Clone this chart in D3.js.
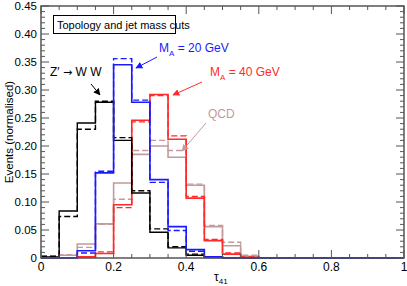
<!DOCTYPE html>
<html>
<head>
<meta charset="utf-8">
<script src="https://cdn.jsdelivr.net/npm/d3@7"></script>
<style>
  body { margin: 0; background: #fff; }
  text { font-family: "Liberation Sans", Arial, sans-serif; }
</style>
</head>
<body>
<div id="canvas"></div>
<script>
"use strict";

/* Data: normalised event fractions per tau41 bin (bin width 0.05) */
let binEdges = d3.range(0, 1.0001, 0.05).map(d => +d.toFixed(2));

let wwSolid   = [0.002, 0.084, 0.241, 0.278, 0.210, 0.116, 0.046, 0.018, 0.005, 0.001, 0, 0, 0, 0, 0, 0, 0, 0, 0, 0];
let wwDashed  = [0.003, 0.074, 0.230, 0.280, 0.215, 0.120, 0.052, 0.020, 0.007, 0.002, 0, 0, 0, 0, 0, 0, 0, 0, 0, 0];
let a20Solid  = [0, 0, 0.013, 0.152, 0.345, 0.278, 0.140, 0.056, 0.015, 0.002, 0, 0, 0, 0, 0, 0, 0, 0, 0, 0];
let a20Dashed = [0, 0, 0.009, 0.155, 0.356, 0.282, 0.135, 0.049, 0.012, 0.002, 0, 0, 0, 0, 0, 0, 0, 0, 0, 0];
let a40Solid  = [0, 0, 0.002, 0.008, 0.095, 0.246, 0.292, 0.212, 0.107, 0.031, 0.007, 0.001, 0, 0, 0, 0, 0, 0, 0, 0];
let a40Dashed = [0, 0, 0.002, 0.011, 0.090, 0.243, 0.290, 0.218, 0.110, 0.033, 0.009, 0.002, 0, 0, 0, 0, 0, 0, 0, 0];
let qcdSolid  = [0.001, 0.005, 0.025, 0.061, 0.134, 0.185, 0.200, 0.180, 0.130, 0.056, 0.022, 0.003, 0, 0, 0, 0, 0, 0, 0, 0];
let qcdDashed = [0.003, 0.006, 0.019, 0.060, 0.105, 0.192, 0.210, 0.192, 0.132, 0.058, 0.028, 0.005, 0, 0, 0, 0, 0, 0, 0, 0];

let xTicks = [0, 0.2, 0.4, 0.6, 0.8, 1];
let yTicks = [0, 0.05, 0.10, 0.15, 0.20, 0.25, 0.30, 0.35, 0.40, 0.45];

/* Drawing configuration */
let svgWidth = 407;
let svgHeight = 286;
let plotLeft = 41, plotRight = 404, plotTop = 6, plotBottom = 258;

let colBlack = "#000000";
let colBlue = "#1a1aff";
let colRed = "#ff2a2a";
let colQcd = "#c49a9a";
let frameCol = "#555555";

let svg = d3.select("#canvas")
  .append("svg")
  .attr("width", svgWidth)
  .attr("height", svgHeight);

let xScale = d3.scaleLinear().domain([0, 1]).range([plotLeft, plotRight]);
let yScale = d3.scaleLinear().domain([0, 0.45]).range([plotBottom, plotTop]);

/* Histograms as step lines */
let stepLine = d3.line()
  .x(d => xScale(d[0]))
  .y(d => yScale(d[1]))
  .curve(d3.curveStepAfter);

function drawHist(values, colour, dashed, width) {
  let pts = values.map((v, i) => [binEdges[i], v]);
  pts.push([binEdges[values.length], values[values.length - 1]]);
  svg.append("path")
    .attr("d", stepLine(pts))
    .attr("fill", "none")
    .attr("stroke", colour)
    .attr("stroke-width", width)
    .attr("stroke-dasharray", dashed ? "6,3" : null);
}

drawHist(qcdSolid, colQcd, false, 1.6);
drawHist(qcdDashed, colQcd, true, 1.4);
drawHist(a40Solid, colRed, false, 1.6);
drawHist(a40Dashed, colRed, true, 1.4);
drawHist(wwSolid, colBlack, false, 1.4);
drawHist(wwDashed, colBlack, true, 1.4);
drawHist(a20Solid, colBlue, false, 1.6);
drawHist(a20Dashed, colBlue, true, 1.4);

/* Frame and ticks on all four sides */
svg.append("rect")
  .attr("x", plotLeft)
  .attr("y", plotTop)
  .attr("width", plotRight - plotLeft)
  .attr("height", plotBottom - plotTop)
  .attr("fill", "none")
  .attr("stroke", frameCol)
  .attr("stroke-width", 1.5);

let xMinor = d3.range(0, 1.0001, 0.05);
let yMinor = d3.range(0, 0.4501, 0.01);

let tickG = svg.append("g").attr("stroke", frameCol).attr("stroke-width", 1);
xMinor.forEach(v => {
  let major = xTicks.some(t => Math.abs(t - v) < 1e-6);
  let len = major ? 8 : 4;
  tickG.append("line").attr("x1", xScale(v)).attr("x2", xScale(v))
    .attr("y1", plotBottom).attr("y2", plotBottom - len);
  tickG.append("line").attr("x1", xScale(v)).attr("x2", xScale(v))
    .attr("y1", plotTop).attr("y2", plotTop + len);
});
yMinor.forEach(v => {
  let major = yTicks.some(t => Math.abs(t - v) < 1e-6);
  let len = major ? 8 : 4;
  tickG.append("line").attr("y1", yScale(v)).attr("y2", yScale(v))
    .attr("x1", plotLeft).attr("x2", plotLeft + len);
  tickG.append("line").attr("y1", yScale(v)).attr("y2", yScale(v))
    .attr("x1", plotRight).attr("x2", plotRight - len);
});

/* Tick labels */
svg.selectAll(".xlab")
  .data(xTicks)
  .join("text")
  .attr("x", d => xScale(d))
  .attr("y", 271)
  .attr("text-anchor", "middle")
  .attr("font-size", 12)
  .text(d => d === 0 ? "0" : d === 1 ? "1" : d3.format(".1f")(d));

svg.selectAll(".ylab")
  .data(yTicks)
  .join("text")
  .attr("x", 37)
  .attr("y", d => yScale(d) + 4)
  .attr("text-anchor", "end")
  .attr("font-size", 11.5)
  .text(d => d === 0 ? "0" : d3.format(".2f")(d));

/* Axis titles */
svg.append("text")
  .attr("transform", "translate(13," + ((plotTop + plotBottom) / 2) + ") rotate(-90)")
  .attr("text-anchor", "middle")
  .attr("font-size", 11.5)
  .text("Events (normalised)");

let tauLabel = svg.append("text")
  .attr("x", 214)
  .attr("y", 281)
  .attr("font-size", 12);
tauLabel.append("tspan").text("τ");
tauLabel.append("tspan").attr("font-size", 8).attr("dy", 3).text("41");

/* Title box */
svg.append("rect")
  .attr("x", 53.5).attr("y", 15.5)
  .attr("width", 122).attr("height", 18)
  .attr("fill", "#fff")
  .attr("stroke", "#000")
  .attr("stroke-width", 1);
svg.append("text")
  .attr("x", 57).attr("y", 28.5)
  .attr("font-size", 11)
  .text("Topology and jet mass cuts");

/* Annotations with arrows */
let defs = svg.append("defs");
function marker(id, colour) {
  defs.append("marker")
    .attr("id", id)
    .attr("viewBox", "0 0 10 10")
    .attr("refX", 9).attr("refY", 5)
    .attr("markerWidth", 7).attr("markerHeight", 7)
    .attr("markerUnits", "userSpaceOnUse")
    .attr("orient", "auto")
    .append("path")
    .attr("d", "M0,0 L10,5 L0,10 z")
    .attr("fill", colour);
}
marker("arrBlack", colBlack);
marker("arrBlue", colBlue);
marker("arrRed", colRed);
marker("arrQcd", colQcd);

function arrow(x1, y1, x2, y2, colour, id) {
  svg.append("line")
    .attr("x1", x1).attr("y1", y1).attr("x2", x2).attr("y2", y2)
    .attr("stroke", colour).attr("stroke-width", 1)
    .attr("marker-end", "url(#" + id + ")");
}

function massLabel(x, y, mass, colour) {
  let t = svg.append("text").attr("x", x).attr("y", y)
    .attr("font-size", 12).attr("fill", colour);
  t.append("tspan").text("M");
  t.append("tspan").attr("font-size", 8).attr("dy", 4).text("A");
  t.append("tspan").attr("dy", -4).text(" = " + mass + " GeV");
}

let zText = svg.append("text")
  .attr("x", 50).attr("y", 76)
  .attr("font-size", 12);
zText.append("tspan").text("Z′ ");
zText.append("tspan").attr("font-family", "DejaVu Sans").attr("font-size", 11).text("→");
zText.append("tspan").text(" W W");
arrow(91, 84, 100, 95, colBlack, "arrBlack");

massLabel(159, 52, 20, colBlue);
arrow(157, 57, 136, 68, colBlue, "arrBlue");

massLabel(210, 76, 40, colRed);
arrow(202, 82, 173, 95, colRed, "arrRed");

svg.append("text")
  .attr("x", 208).attr("y", 118)
  .attr("font-size", 12)
  .attr("fill", colQcd)
  .text("QCD");
arrow(206, 123, 182, 151, colQcd, "arrQcd");
</script>
</body>
</html>
